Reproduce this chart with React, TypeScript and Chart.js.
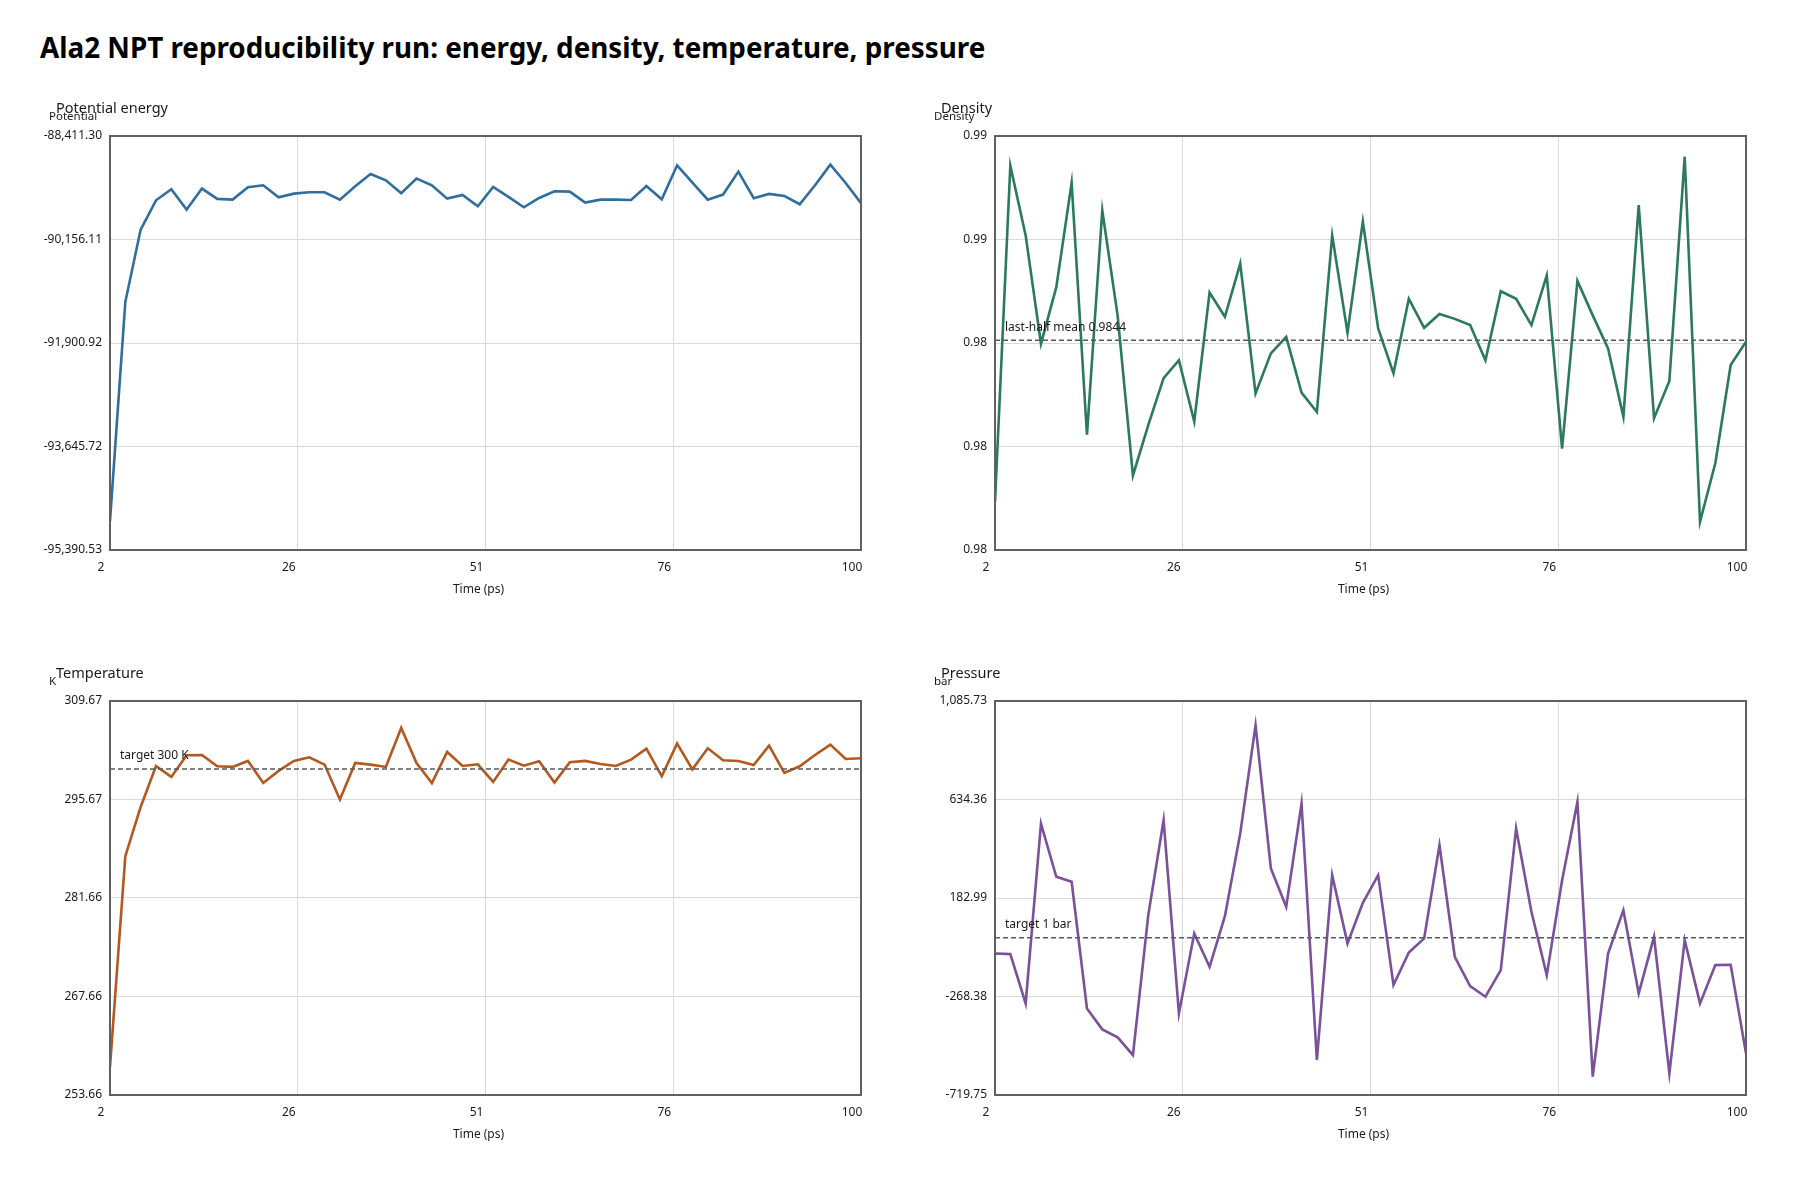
import React, { useEffect, useRef } from "react";
import { Chart, registerables } from "chart.js";
Chart.register(...registerables);

// ---------- data ----------
const timePs = [2, 4, 6, 8, 10, 12, 14, 16, 18, 20, 22, 24, 26, 28, 30, 32, 34, 36, 38, 40, 42, 44, 46, 48, 50,
  52, 54, 56, 58, 60, 62, 64, 66, 68, 70, 72, 74, 76, 78, 80, 82, 84, 86, 88, 90, 92, 94, 96, 98, 100];

const potentialEnergy = [-94902, -91207, -89989, -89495, -89309, -89652, -89298, -89472, -89484, -89276,
  -89242, -89444, -89383, -89360, -89360, -89484, -89259, -89051, -89158, -89377,
  -89130, -89242, -89467, -89405, -89596, -89270, -89438, -89613, -89456, -89343,
  -89349, -89534, -89484, -89484, -89489, -89253, -89478, -88905, -89197, -89484,
  -89399, -89012, -89461, -89388, -89422, -89562, -89242, -88894, -89203, -89545];

const density = [0.98206, 0.98693, 0.98592, 0.98435, 0.98517, 0.98668, 0.98303, 0.98628, 0.98476, 0.98244,
  0.98317, 0.98385, 0.98411, 0.98322, 0.98509, 0.98474, 0.98551, 0.98363, 0.98421, 0.98445,
  0.98364, 0.98336, 0.98592, 0.98451, 0.98612, 0.98457, 0.98392, 0.98500, 0.98458, 0.98478,
  0.98471, 0.98462, 0.98411, 0.98511, 0.98500, 0.98462, 0.98534, 0.98283, 0.98526, 0.98476,
  0.98428, 0.98329, 0.98636, 0.98327, 0.98381, 0.98706, 0.98177, 0.98262, 0.98404, 0.98438];

const temperature = [257.68, 287.61, 294.61, 300.44, 298.88, 301.95, 301.99, 300.39, 300.30, 301.15,
  298.02, 299.73, 301.15, 301.67, 300.63, 295.66, 300.86, 300.63, 300.30, 305.84,
  300.86, 298.02, 302.43, 300.44, 300.67, 298.17, 301.34, 300.48, 301.10, 298.07,
  300.96, 301.15, 300.72, 300.44, 301.34, 302.90, 298.97, 303.61, 299.96, 302.95,
  301.24, 301.15, 300.58, 303.33, 299.44, 300.39, 302.00, 303.47, 301.43, 301.53];

const pressure = [-71.2, -74.2, -300.0, 524.1, 279.9, 257.0, -323.0, -419.0, -455.8, -536.6,
  104.4, 539.3, -345.9, 20.4, -132.2, 99.8, 478.3, 974.3, 318.0, 142.5,
  615.6, -559.5, 287.5, -25.4, 160.8, 287.5, -216.1, -66.5, -2.4, 424.9,
  -86.4, -220.7, -269.5, -147.5, 501.2, 119.6, -170.4, 264.6, 623.3, -635.8,
  -71.2, 127.2, -254.3, 5.2, -620.6, -10.1, -300.1, -124.6, -123.1, -529.0];

const xTickValues = [2, 26.5, 51, 75.5, 100];
const xTickLabels = ["2", "26", "51", "76", "100"];

const energyRange = [-95390.53, -88411.3];
const energyTickLabels = ["-95,390.53", "-93,645.72", "-91,900.92", "-90,156.11", "-88,411.30"];
const densityRange = [0.98136, 0.98736];
const densityTickLabels = ["0.98", "0.98", "0.98", "0.99", "0.99"];
const temperatureRange = [253.66, 309.67];
const temperatureTickLabels = ["253.66", "267.66", "281.66", "295.67", "309.67"];
const pressureRange = [-719.75, 1085.73];
const pressureTickLabels = ["-719.75", "-268.38", "182.99", "634.36", "1,085.73"];

const densityMean = 0.9844;
const targetTemperature = 300;
const targetPressure = 1;

const FONT = '"Noto Sans", "DejaVu Sans", sans-serif';

const panelDecor = {
  id: "panelDecor",
  afterDraw(chart: any, _args: any, opts: any) {
    const { ctx, chartArea: a } = chart;
    ctx.save();
    ctx.strokeStyle = "#606060";
    ctx.lineWidth = 2;
    ctx.strokeRect(a.left, a.top, a.right - a.left, a.bottom - a.top);
    ctx.fillStyle = "#1a1a1a";
    ctx.textBaseline = "middle";
    ctx.textAlign = "left";
    ctx.font = `11.5px ${FONT}`;
    ctx.fillText(opts.unit, a.left - 61, a.top - 19);
    ctx.font = `14.5px ${FONT}`;
    ctx.fillText(opts.title, a.left - 54, a.top - 27);
    ctx.font = `12px ${FONT}`;
    ctx.textAlign = "center";
    ctx.fillText("Time (ps)", (a.left + a.right) / 2 - 7, a.bottom + 40);
    if (opts.refLabel) {
      const y = chart.scales.y.getPixelForValue(opts.refValue);
      ctx.textAlign = "left";
      ctx.fillText(opts.refLabel, a.left + 10, y - 13);
    }
    ctx.restore();
  },
};

type PanelCfg = {
  plotLeft: number; plotTop: number; plotRight: number; plotBottom: number;
  title: string; unit: string; values: number[]; color: string;
  range: number[]; tickLabels: string[];
  refValue?: number; refLabel?: string;
};

function Panel({ cfg }: { cfg: PanelCfg }) {
  const ref = useRef<HTMLCanvasElement | null>(null);
  const left = cfg.plotLeft - 110;
  const top = cfg.plotTop - 76;
  const width = cfg.plotRight - cfg.plotLeft + 110 + 30;
  const height = cfg.plotBottom - cfg.plotTop + 76 + 70;

  useEffect(() => {
    if (!ref.current) return;
    const datasets: any[] = [];
    if (cfg.refValue !== undefined) {
      datasets.push({
        data: [{ x: timePs[0], y: cfg.refValue }, { x: timePs[timePs.length - 1], y: cfg.refValue }],
        borderColor: "#5a5a5a",
        borderWidth: 1.6,
        borderDash: [5, 3],
        pointRadius: 0,
        fill: false,
      });
    }
    datasets.push({
      data: timePs.map((t, i) => ({ x: t, y: cfg.values[i] })),
      borderColor: cfg.color,
      borderWidth: 2.6,
      borderJoinStyle: "miter",
      pointRadius: 0,
      tension: 0,
      fill: false,
    });
    const [ymin, ymax] = cfg.range;
    const chart = new Chart(ref.current, {
      type: "line",
      data: { datasets },
      options: {
        responsive: false,
        animation: false,
        layout: { padding: { top: 76, right: 30, bottom: 30, left: 0 } },
        plugins: {
          legend: { display: false },
          title: { display: false },
          tooltip: { enabled: false },
          panelDecor: { title: cfg.title, unit: cfg.unit, refValue: cfg.refValue, refLabel: cfg.refLabel },
        } as any,
        scales: {
          x: {
            type: "linear",
            min: timePs[0],
            max: timePs[timePs.length - 1],
            afterBuildTicks: (s: any) => { s.ticks = xTickValues.map((v) => ({ value: v })); },
            afterFit: (s: any) => { s.height = 40; },
            ticks: {
              autoSkip: false,
              maxRotation: 0,
              padding: 10,
              labelOffset: -9,
              color: "#1a1a1a",
              font: { family: FONT, size: 12 },
              callback: (_v: any, i: number) => xTickLabels[i],
            },
            grid: { color: "#d9d9d9", lineWidth: 1, drawTicks: false },
            border: { display: false },
          },
          y: {
            type: "linear",
            min: ymin,
            max: ymax,
            afterBuildTicks: (s: any) => {
              s.ticks = [0, 1, 2, 3, 4].map((k) => ({ value: ymin + ((ymax - ymin) * k) / 4 }));
            },
            afterFit: (s: any) => { s.width = 110; },
            ticks: {
              autoSkip: false,
              padding: 8,
              color: "#1a1a1a",
              font: { family: FONT, size: 12 },
              callback: (_v: any, i: number) => cfg.tickLabels[i],
            },
            grid: { color: "#d9d9d9", lineWidth: 1, drawTicks: false },
            border: { display: false },
          },
        },
      } as any,
      plugins: [panelDecor as any],
    });
    return () => chart.destroy();
  }, []);

  return (
    <canvas
      ref={ref}
      width={width}
      height={height}
      style={{ position: "absolute", left, top, width, height }}
    />
  );
}

const panels: PanelCfg[] = [
  {
    plotLeft: 110, plotTop: 136, plotRight: 861, plotBottom: 550,
    title: "Potential energy", unit: "Potential", values: potentialEnergy, color: "#2f6e9d",
    range: energyRange, tickLabels: energyTickLabels,
  },
  {
    plotLeft: 995, plotTop: 136, plotRight: 1746, plotBottom: 550,
    title: "Density", unit: "Density", values: density, color: "#2b7a5b",
    range: densityRange, tickLabels: densityTickLabels,
    refValue: densityMean, refLabel: "last-half mean 0.9844",
  },
  {
    plotLeft: 110, plotTop: 701, plotRight: 861, plotBottom: 1095,
    title: "Temperature", unit: "K", values: temperature, color: "#b3581f",
    range: temperatureRange, tickLabels: temperatureTickLabels,
    refValue: targetTemperature, refLabel: "target 300 K",
  },
  {
    plotLeft: 995, plotTop: 701, plotRight: 1746, plotBottom: 1095,
    title: "Pressure", unit: "bar", values: pressure, color: "#7a519a",
    range: pressureRange, tickLabels: pressureTickLabels,
    refValue: targetPressure, refLabel: "target 1 bar",
  },
];

export default function App() {
  return (
    <div style={{ position: "fixed", left: 0, top: 0, width: 1800, height: 1200, background: "#ffffff", overflow: "hidden" }}>
      <div
        style={{
          position: "absolute", left: 40, top: 32, fontFamily: FONT, fontWeight: 700,
          fontSize: 27.8, lineHeight: "30px", color: "#000", whiteSpace: "nowrap",
        }}
      >
        Ala2 NPT reproducibility run: energy, density, temperature, pressure
      </div>
      {panels.map((p, i) => (
        <Panel key={i} cfg={p} />
      ))}
    </div>
  );
}
